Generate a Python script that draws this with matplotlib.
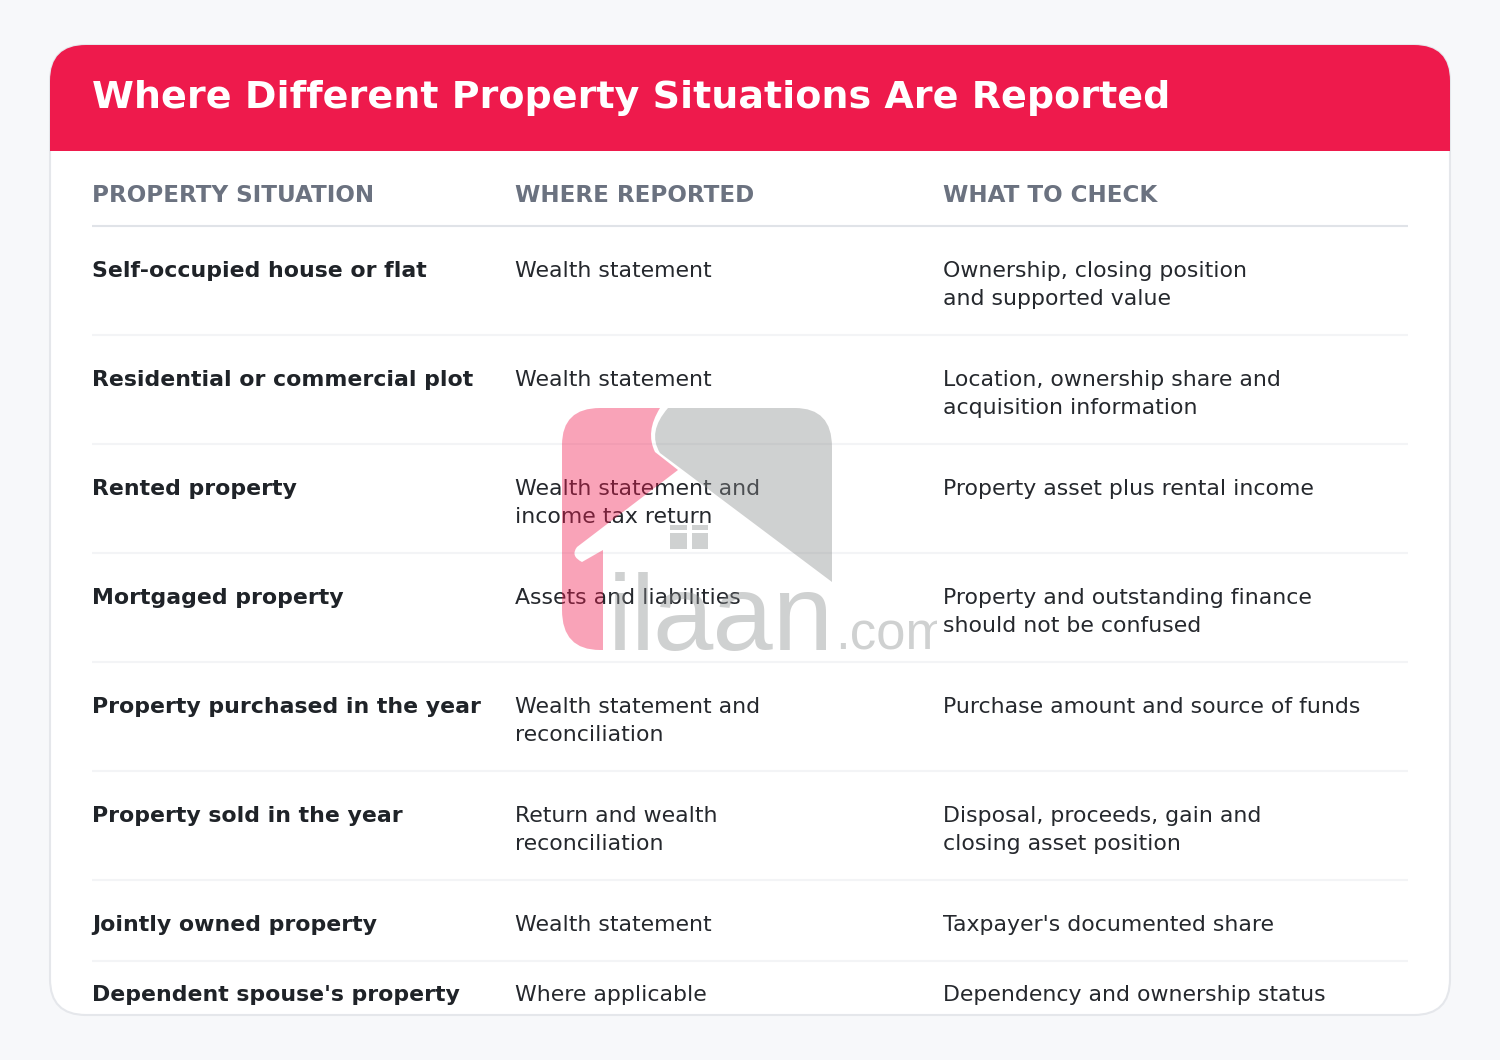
import matplotlib
matplotlib.use("Agg")
import matplotlib.pyplot as plt
from matplotlib.patches import FancyBboxPatch, PathPatch, Rectangle
from matplotlib.path import Path

title = "Where Different Property Situations Are Reported"
headers = ["PROPERTY SITUATION", "WHERE REPORTED", "WHAT TO CHECK"]

situations = ["Self-occupied house or flat", "Residential or commercial plot", "Rented property",
              "Mortgaged property", "Property purchased in the year", "Property sold in the year",
              "Jointly owned property", "Dependent spouse's property"]
reported = ["Wealth statement", "Wealth statement", "Wealth statement and\nincome tax return",
            "Assets and liabilities", "Wealth statement and\nreconciliation",
            "Return and wealth\nreconciliation", "Wealth statement", "Where applicable"]
checks = ["Ownership, closing position\nand supported value", "Location, ownership share and\nacquisition information",
          "Property asset plus rental income", "Property and outstanding finance\nshould not be confused",
          "Purchase amount and source of funds", "Disposal, proceeds, gain and\nclosing asset position",
          "Taxpayer's documented share", "Dependency and ownership status"]

# layout in pixels
col_x = [92, 515, 943]
baselines = [277, 386, 495, 604, 713, 822, 931, 1001]
separators = [335, 444, 553, 662, 771, 880, 961]

fig = plt.figure(figsize=(15, 10.6), dpi=100, facecolor="#f7f8fa")
ax = fig.add_axes([0, 0, 1, 1])
ax.set_xlim(0, 1500)
ax.set_ylim(1060, 0)
ax.axis("off")

# kart
card = FancyBboxPatch((50, 45), 1400, 970, boxstyle="round,pad=0,rounding_size=36",
                      fc="white", ec="#e5e7eb", lw=1.5, zorder=1)
ax.add_patch(card)
band = Rectangle((50, 45), 1400, 106, fc="#ee1a4c", ec="none", zorder=2)
ax.add_patch(band)
band.set_clip_path(card)

ax.text(92, 108, title, color="white", fontsize=27.34, fontweight="bold", va="baseline", zorder=3)

for x, h in zip(col_x, headers):
    ax.text(x, 202, h, color="#6b7280", fontsize=16.56, fontweight="bold", va="baseline", zorder=3)
ax.plot([92, 1408], [226, 226], color="#e0e3e8", lw=1.5, zorder=2, solid_capstyle="butt")
for y in separators:
    ax.plot([92, 1408], [y, y], color="#f3f4f6", lw=1.5, zorder=2, solid_capstyle="butt")

# satirlar
for i in range(len(situations)):
    ax.text(col_x[0], baselines[i], situations[i], color="#1f2328", fontsize=15.8,
            fontweight="bold", va="baseline", zorder=3)
    for x, cell in [(col_x[1], reported[i]), (col_x[2], checks[i])]:
        for k, line in enumerate(cell.split("\n")):
            ax.text(x, baselines[i] + 28 * k, line, color="#25282d", fontsize=15.8,
                    va="baseline", zorder=3)

# filigran
pink = "#f21b4f"
grey = "#898c8c"
pink_path = Path(
    [(562, 445), (562, 408), (600, 408), (660, 408), (645, 432), (655, 452), (678, 470),
     (577, 547), (570, 556), (582, 562), (603, 550), (603, 650), (600, 650), (562, 650), (562, 610), (562, 445)],
    [Path.MOVETO, Path.CURVE3, Path.CURVE3, Path.LINETO, Path.CURVE3, Path.CURVE3, Path.LINETO,
     Path.LINETO, Path.CURVE3, Path.CURVE3, Path.LINETO, Path.LINETO, Path.LINETO, Path.CURVE3, Path.CURVE3, Path.CLOSEPOLY])
grey_path = Path(
    [(668, 408), (795, 408), (832, 408), (832, 447), (832, 582), (660, 453), (647, 432), (668, 408), (668, 408)],
    [Path.MOVETO, Path.LINETO, Path.CURVE3, Path.CURVE3, Path.LINETO, Path.LINETO, Path.CURVE3, Path.CURVE3, Path.CLOSEPOLY])
ax.add_patch(PathPatch(pink_path, fc=pink, ec="none", alpha=0.4, zorder=5))
ax.add_patch(PathPatch(grey_path, fc=grey, ec="none", alpha=0.4, zorder=5))
for x0, x1 in [(670, 687), (692, 708)]:
    ax.add_patch(Rectangle((x0, 533), x1 - x0, 16, fc=grey, ec="none", alpha=0.4, zorder=5))
    ax.add_patch(Rectangle((x0, 525), x1 - x0, 5, fc=grey, ec="none", alpha=0.4, zorder=5))
for x, part in [(608, "i"), (631, "l"), (652, "aan")]:
    ax.text(x, 650, part, color=grey, alpha=0.4, fontsize=78, family="Liberation Sans",
            va="baseline", zorder=5)
com = ax.text(835, 650, ".com", color=grey, alpha=0.4, fontsize=38, family="Liberation Sans",
              va="baseline", zorder=5, clip_on=True)
com.set_clip_path(Rectangle((800, 600), 137, 60, transform=ax.transData))

fig.savefig("out.png", dpi=100, facecolor=fig.get_facecolor())
